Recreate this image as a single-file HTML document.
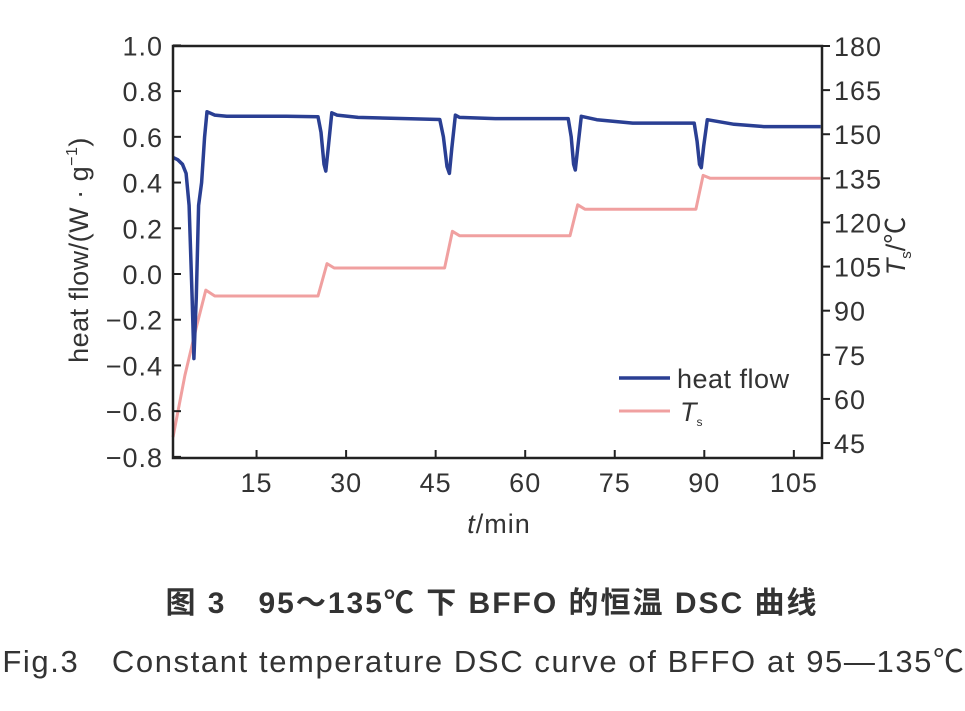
<!DOCTYPE html>
<html><head><meta charset="utf-8"><style>
body{margin:0;background:#fff;}
svg text{font-family:"Liberation Sans","Noto Sans CJK SC",sans-serif;fill:#333;}
</style></head><body>
<svg width="965" height="706" viewBox="0 0 965 706" id="chart">
<rect x="0" y="0" width="965" height="706" fill="#fff"/>
<g id="series"></g>
<rect x="173" y="46" width="649" height="412" fill="none" stroke="#222" stroke-width="2.5"/>
<g id="axes"></g>
<text x="88" y="250" font-size="27" letter-spacing="0.5" text-anchor="middle" transform="rotate(-90 88 250)">heat flow/(W · g<tspan font-size="16" dy="-11">−1</tspan><tspan dy="11">)</tspan></text>
<text x="905" y="246" font-size="27" text-anchor="middle" transform="rotate(-90 905 246)"><tspan font-style="italic">T</tspan><tspan font-size="15" dy="6">s</tspan><tspan dy="-6">/℃</tspan></text>
<text x="499" y="533" font-size="27" letter-spacing="1" text-anchor="middle"><tspan font-style="italic">t</tspan>/min</text>
<g>
<line x1="619" y1="378" x2="670" y2="378" stroke="#2a3f93" stroke-width="3.5"/>
<text x="677" y="388" font-size="27" letter-spacing="0.5">heat flow</text>
<line x1="619" y1="411" x2="670" y2="411" stroke="#f0a0a0" stroke-width="3"/>
<text x="680" y="421" font-size="27" font-style="italic">T<tspan font-size="12" dy="5" font-style="normal">s</tspan></text>
</g>
<text x="492" y="613" font-size="30" font-weight="bold" letter-spacing="2" text-anchor="middle">图 3　95～135℃ 下 BFFO 的恒温 DSC 曲线</text>
<text x="484" y="672" font-size="31" letter-spacing="1.6" text-anchor="middle">Fig.3　Constant temperature DSC curve of BFFO at 95—135℃</text>
</svg>
<script>
const heatT = [1,1.8,2.6,3.2,3.7,4.2,4.5,4.9,5.3,5.8,6.3,6.7,8,10,15,20,25.3,25.8,26.3,26.6,27,27.6,28.5,32,40,45.7,46.3,46.9,47.3,47.7,48.3,49,55,60,67.2,67.7,68.1,68.4,68.8,69.4,72,78,85,88.3,88.8,89.2,89.5,89.9,90.5,95,100,105,109.5];
const heatV = [0.51,0.5,0.48,0.44,0.3,-0.1,-0.37,-0.1,0.3,0.4,0.6,0.71,0.695,0.69,0.69,0.69,0.688,0.62,0.48,0.45,0.55,0.705,0.695,0.685,0.68,0.676,0.6,0.47,0.44,0.55,0.695,0.685,0.68,0.68,0.68,0.6,0.48,0.455,0.55,0.69,0.675,0.66,0.66,0.66,0.58,0.48,0.465,0.56,0.675,0.655,0.645,0.645,0.645];
const tempT = [1,3,5,6.5,8,15,25.3,26.8,28,40,46.5,47.8,49,60,67.5,68.8,70,80,88.6,89.8,91,100,109.5];
const tempV = [47,68,85,97,95,95,95,106,104.5,104.5,104.5,117,115.5,115.5,115.5,126,124.5,124.5,124.5,136,135,135,135];
const xTicks = [15,30,45,60,75,90,105];
const yTicks = [1.0,0.8,0.6,0.4,0.2,0.0,-0.2,-0.4,-0.6,-0.8];
const rTicks = [180,165,150,135,120,105,90,75,60,45];

const NS="http://www.w3.org/2000/svg";
const X = t => 167 + t*5.97;
const Y = v => 274 - v*228.6;
const R = T => 46 + (180-T)*2.941;
function el(tag, attrs, parent){const e=document.createElementNS(NS,tag);for(const k in attrs)e.setAttribute(k,attrs[k]);parent.appendChild(e);return e;}
const series=document.getElementById('series'), axes=document.getElementById('axes');
let d=tempT.map((t,i)=>(i?'L':'M')+X(t).toFixed(1)+','+R(tempV[i]).toFixed(1)).join('');
const tp=el('path',{d:d,fill:'none',stroke:'#f0a0a0','stroke-width':3,'stroke-linejoin':'round'},series);


d=heatT.map((t,i)=>(i?'L':'M')+X(t).toFixed(1)+','+Y(heatV[i]).toFixed(1)).join('');
const hp=el('path',{d:d,fill:'none',stroke:'#2a3f93','stroke-width':3.5,'stroke-linejoin':'round'},series);


xTicks.forEach(t=>{
  const l=el('line',{x1:X(t),x2:X(t),y1:458,y2:450,stroke:'#222','stroke-width':2},axes);
  
  
  const s=el('text',{x:X(t),y:492,'font-size':27,'letter-spacing':1,'text-anchor':'middle'},axes);s.textContent=t;
  
  
});
yTicks.forEach(v=>{
  const l=el('line',{x1:173,x2:181,y1:Y(v),y2:Y(v),stroke:'#222','stroke-width':2},axes);
  
  
  const s=el('text',{x:163,y:Y(v)+10,'font-size':27,'letter-spacing':1,'text-anchor':'end'},axes);s.textContent=(v<0?'−':'')+Math.abs(v).toFixed(1);
  
  
});
rTicks.forEach(T=>{
  const l=el('line',{x1:822,x2:830,y1:R(T),y2:R(T),stroke:'#222','stroke-width':2},axes);
  
  
  const s=el('text',{x:834,y:R(T)+10,'font-size':27,'letter-spacing':1},axes);s.textContent=T;
  
  
});
</script>
</body></html>
